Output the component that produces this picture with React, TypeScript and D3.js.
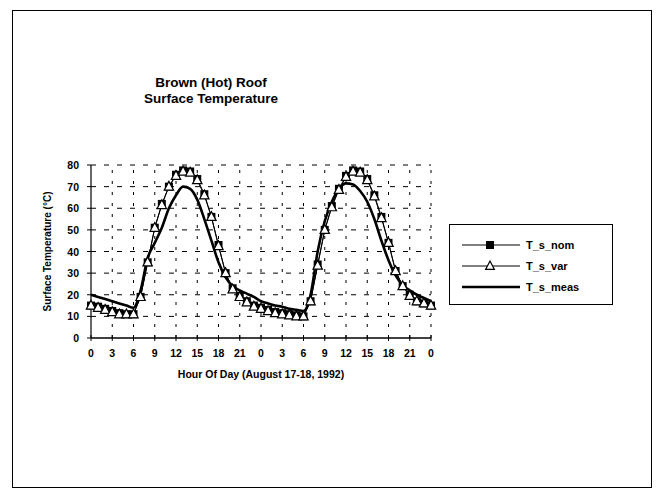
import React from "react";
import * as d3 from "d3";

const hours: number[] = Array.from({ length: 49 }, (_, i) => i);
const xTickValues: number[] = [0, 3, 6, 9, 12, 15, 18, 21, 24, 27, 30, 33, 36, 39, 42, 45, 48];
const xTickLabels: string[] = ["0", "3", "6", "9", "12", "15", "18", "21", "0", "3", "6", "9", "12", "15", "18", "21", "0"];
const yTickValues: number[] = [0, 10, 20, 30, 40, 50, 60, 70, 80];

const tsNom: number[] = [
  15, 14.5, 13.5, 12.5, 11.5, 11, 11, 19, 35, 51, 62, 70, 75.5, 77.5, 77, 73.5, 66.5, 56, 43, 30, 23, 19.5, 17, 15, 14,
  13, 12, 11.5, 11, 10.5, 10, 17, 34, 50, 61, 69, 75, 77.5, 77, 73.5, 66, 56, 44, 31, 24, 20, 17, 16, 15,
];
const tsVar: number[] = [
  15, 14, 13, 12, 11, 11, 11, 19, 35, 51, 61.5, 70, 75, 77, 76.5, 73, 66, 56, 42.5, 30, 22.5, 19, 16.5, 14.5, 13.5,
  12.5, 11.5, 11, 10.5, 10, 10, 17, 33.5, 50, 60.5, 68.5, 74.5, 77, 76.5, 73, 65.5, 55.5, 44, 31, 24, 19.5, 17, 16, 15,
];
const tsMeas: number[] = [
  20, 19, 18, 17, 16, 15, 14, 22, 37, 44, 51, 60, 66, 70, 69, 64, 55, 45, 35, 28, 24, 22, 20.5, 19, 17,
  16, 15, 14.5, 13.5, 13, 12.5, 20, 40, 54, 63, 69, 71.5, 71, 68, 63, 55, 45, 36, 29, 24.5, 22, 20, 18.5, 17,
];

const legendNames: string[] = ["T_s_nom", "T_s_var", "T_s_meas"];

const FONT = "'Liberation Sans', Arial, Helvetica, sans-serif";

export default function App() {
  const x = d3.scaleLinear().domain([0, 48]).range([91, 431]);
  const y = d3.scaleLinear().domain([0, 80]).range([338, 165]);
  const line = d3
    .line<number>()
    .x((_, i) => x(hours[i]))
    .y((d) => y(d));
  const meas = d3
    .line<number>()
    .x((_, i) => x(hours[i]))
    .y((d) => y(d))
    .curve(d3.curveMonotoneX);

  const tri = (cx: number, cy: number, s: number) =>
    `M${cx},${cy - s * 0.62} L${cx + s * 0.55},${cy + s * 0.42} L${cx - s * 0.55},${cy + s * 0.42} Z`;

  const legendY = [245, 266, 287];

  return (
    <svg
      width={658}
      height={494}
      style={{ position: "absolute", left: 0, top: 0, background: "#fff" }}
      fontFamily={FONT}
    >
      <rect x={0} y={0} width={658} height={494} fill="#fff" />
      <rect x={12.5} y={10.5} width={639} height={477} fill="none" stroke="#000" strokeWidth={1} />

      <text x={211} y={87} textAnchor="middle" fontSize={13.5} fontWeight="bold">
        Brown (Hot) Roof
      </text>
      <text x={211} y={103} textAnchor="middle" fontSize={13.5} fontWeight="bold">
        Surface Temperature
      </text>

      {/* horizontal dashed grid */}
      {yTickValues.slice(1).map((v) => (
        <line
          key={"h" + v}
          x1={x(0)}
          x2={x(48)}
          y1={y(v)}
          y2={y(v)}
          stroke="#000"
          strokeWidth={1}
          strokeDasharray="5,8"
        />
      ))}
      {/* vertical dashed grid */}
      {xTickValues.slice(1).map((v) => (
        <line
          key={"v" + v}
          x1={x(v)}
          x2={x(v)}
          y1={y(0)}
          y2={y(80)}
          stroke="#000"
          strokeWidth={1}
          strokeDasharray="3,8"
        />
      ))}

      {/* axes */}
      <line x1={x(0)} x2={x(0)} y1={y(0)} y2={y(80)} stroke="#000" strokeWidth={1.2} />
      <line x1={x(0)} x2={x(48)} y1={y(0)} y2={y(0)} stroke="#000" strokeWidth={1.5} />
      {yTickValues.map((v) => (
        <g key={"yt" + v}>
          <line x1={x(0) - 4} x2={x(0)} y1={y(v)} y2={y(v)} stroke="#000" />
          <text x={79} y={y(v) + 4} textAnchor="end" fontSize={10.5} fontWeight="bold">
            {v}
          </text>
        </g>
      ))}
      {xTickValues.map((v, i) => (
        <g key={"xt" + v}>
          <line x1={x(v)} x2={x(v)} y1={y(0) - 3} y2={y(0) + 3} stroke="#000" />
          <text x={x(v)} y={y(0) + 19} textAnchor="middle" fontSize={10.5} fontWeight="bold">
            {xTickLabels[i]}
          </text>
        </g>
      ))}

      <text
        transform={`translate(51,${y(40)}) rotate(-90)`}
        textAnchor="middle"
        fontSize={10}
        fontWeight="bold"
      >
        Surface Temperature (°C)
      </text>
      <text x={261} y={y(0) + 40} textAnchor="middle" fontSize={10.5} fontWeight="bold">
        Hour Of Day (August 17-18, 1992)
      </text>

      {/* series */}
      <path d={line(tsNom) || ""} fill="none" stroke="#000" strokeWidth={1} />
      <path d={line(tsVar) || ""} fill="none" stroke="#000" strokeWidth={1} />
      <path d={meas(tsMeas) || ""} fill="none" stroke="#000" strokeWidth={2.6} />
      {tsNom.map((v, i) => (
        <rect key={"sq" + i} x={x(hours[i]) - 4} y={y(v) - 4} width={8} height={8} fill="#000" />
      ))}
      {tsVar.map((v, i) => (
        <path key={"tr" + i} d={tri(x(hours[i]), y(v), 8.5)} fill="#fff" stroke="#000" strokeWidth={1.2} />
      ))}

      {/* legend */}
      <rect x={449.5} y={224.5} width={163} height={80} fill="#fff" stroke="#000" strokeWidth={1} />
      {legendNames.map((name, i) => (
        <g key={name}>
          <line
            x1={462}
            x2={520}
            y1={legendY[i]}
            y2={legendY[i]}
            stroke="#000"
            strokeWidth={i === 2 ? 2.6 : 1}
          />
          {i === 0 && <rect x={486} y={legendY[i] - 4} width={8} height={8} fill="#000" />}
          {i === 1 && <path d={tri(490, legendY[i], 8)} fill="#fff" stroke="#000" strokeWidth={1.2} />}
          <text x={526} y={legendY[i] + 4} fontSize={11} fontWeight="bold">
            {name}
          </text>
        </g>
      ))}
    </svg>
  );
}
